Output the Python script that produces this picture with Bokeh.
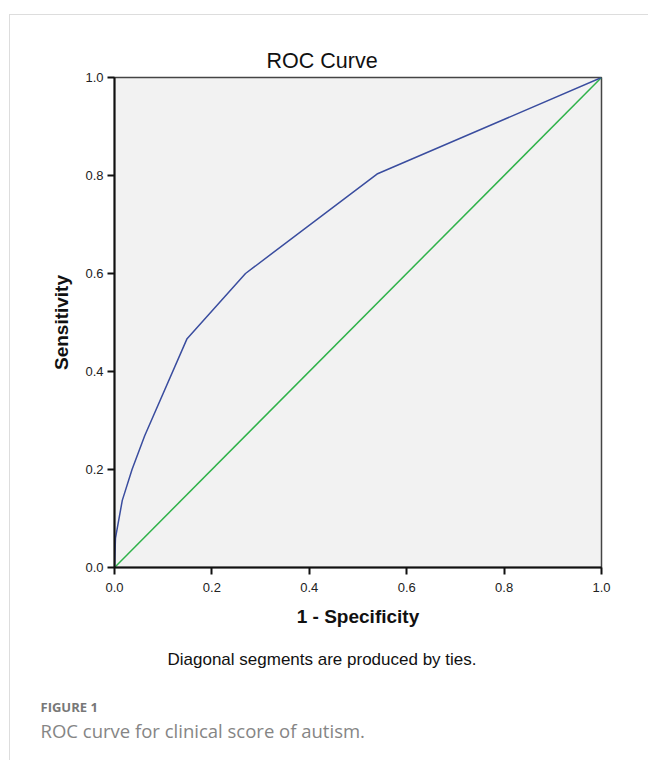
from bokeh.plotting import figure
from bokeh.models import Range1d, FixedTicker, Title, PrintfTickFormatter
from bokeh.embed import file_html
from bokeh.resources import INLINE

# ROC data (1 - specificity, sensitivity)
fpr = [0.0, 0.002, 0.016, 0.036, 0.062, 0.149, 0.269, 0.539, 1.0]
tpr = [0.0, 0.060, 0.137, 0.200, 0.269, 0.467, 0.600, 0.803, 1.0]
ref_x = [0.0, 1.0]
ref_y = [0.0, 1.0]
ticks = [0.0, 0.2, 0.4, 0.6, 0.8, 1.0]

title_text = "ROC Curve"
xlabel = "1 - Specificity"
ylabel = "Sensitivity"
note_text = "Diagonal segments are produced by ties."
fig_tag = "FIGURE 1"
caption = "ROC curve for clinical score of autism."

FONT = "Liberation Sans"

p = figure(width=648, height=760, output_backend="svg", toolbar_location=None,
           x_range=Range1d(0, 1), y_range=Range1d(0, 1),
           min_border_left=114, min_border_right=47, min_border_top=77, min_border_bottom=193)
p.background_fill_color = "#f2f2f2"
p.border_fill_color = None
p.styles = {
    "background": "linear-gradient(#dddddd,#dddddd) 9px 14px / 1px 100% no-repeat, "
                  "linear-gradient(#dddddd,#dddddd) 9px 14px / 100% 1px no-repeat, white"
}
p.outline_line_color = "#444444"
p.outline_line_width = 1.5
p.xgrid.visible = False
p.ygrid.visible = False

for ax in (p.xaxis[0], p.yaxis[0]):
    ax.ticker = FixedTicker(ticks=ticks)
    ax.formatter = PrintfTickFormatter(format="%.1f")
    ax.axis_line_width = 2
    ax.axis_line_color = "#111111"
    ax.major_tick_line_width = 2
    ax.major_tick_line_color = "#111111"
    ax.major_tick_out = 7
    ax.major_tick_in = 0
    ax.minor_tick_line_color = None
    ax.major_label_text_font = FONT
    ax.major_label_text_font_size = "13px"
    ax.major_label_text_color = "#222222"
    ax.axis_label_text_font = FONT
    ax.axis_label_text_font_style = "bold"
    ax.axis_label_text_font_size = "19px"
    ax.axis_label_text_color = "#111111"

p.xaxis.axis_label = xlabel
p.yaxis.axis_label = ylabel
p.xaxis.major_label_standoff = 8
p.yaxis.major_label_standoff = 4
p.xaxis.axis_label_standoff = 11
p.yaxis.axis_label_standoff = 10

p.title.text = title_text
p.title.text_font = FONT
p.title.text_font_size = "21.5px"
p.title.text_font_style = "normal"
p.title.text_color = "#111111"
p.title.align = "left"
p.title.offset = 152
p.title.standoff = 9

p.line(ref_x, ref_y, line_color="#2fb24a", line_width=1.5)
p.line(fpr, tpr, line_color="#3a4d9f", line_width=1.5)

p.add_layout(Title(text=note_text, text_font=FONT, text_font_size="17px",
                   text_font_style="normal", text_color="#111111",
                   align="left", offset=53, standoff=36), "below")
p.add_layout(Title(text=fig_tag, text_font="Open Sans", text_font_size="13px",
                   text_font_style="bold", text_color="#777777",
                   align="left", offset=-74, standoff=19), "below")
p.add_layout(Title(text=caption, text_font="Open Sans", text_font_size="18.5px",
                   text_font_style="normal", text_color="#858585",
                   align="left", offset=-74, standoff=-19), "below")

open("out.html", "w").write(file_html(p, INLINE))
